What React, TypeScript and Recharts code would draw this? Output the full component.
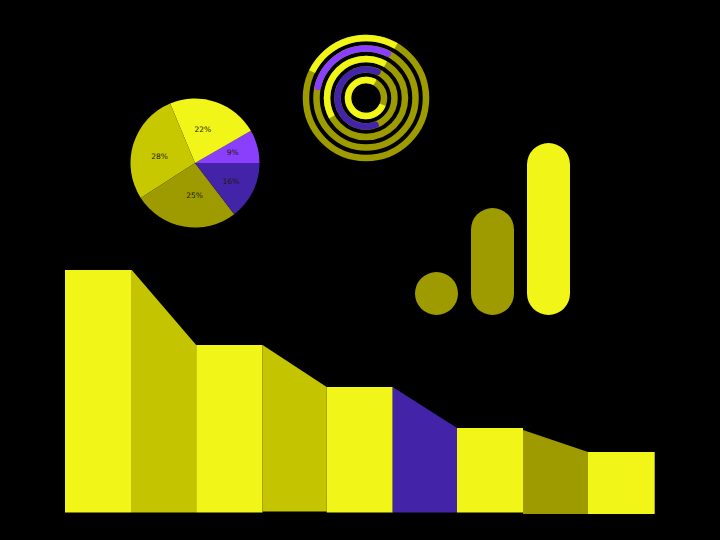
import React from "react";
import { Area, Bar, BarChart, Cell, ComposedChart, Pie, PieChart, PolarAngleAxis, RadialBar, RadialBarChart, Sector, XAxis, YAxis } from "recharts";

const YELLOW = "#f1f518";
const OLIVE = "#c4c400";
const DARK_OLIVE = "#9e9b00";
const INDIGO = "#4324a8";
const VIOLET = "#8a3ffc";

// Stepped funnel
const edges = [0, 66.8, 131.2, 197.6, 261.7, 327.7, 392, 458, 523, 589.7];
const segmentTops: [number, number][] = [
  [243, 243], [243, 168], [168, 168], [168, 126], [126, 126], [126, 85], [85, 85], [83, 61], [61, 61],
];
const segmentBases = [0.5, 0.5, 0.5, 1.5, 0.5, 0.5, 0.5, -1, -1];
const segmentColors = [YELLOW, OLIVE, YELLOW, OLIVE, YELLOW, INDIGO, YELLOW, DARK_OLIVE, YELLOW];
const funnelRows = edges.map((x, i) => {
  const row: Record<string, unknown> = { x };
  if (i < segmentTops.length) row[`s${i}`] = [segmentBases[i], segmentTops[i][0]];
  if (i > 0) row[`s${i - 1}`] = [segmentBases[i - 1], segmentTops[i - 1][1]];
  return row;
});

// Pie
const pieLabels = ["9%", "22%", "28%", "25%", "16%"];
const pieValues = [8.3, 23, 27.8, 26.3, 14.6];
const pieColors = [VIOLET, YELLOW, "#c8c800", DARK_OLIVE, INDIGO];
const pieRows = pieLabels.map((name, i) => ({ name, value: pieValues[i] }));

// Rings, innermost first
const ringNames = ["a", "b", "c", "d", "e"];
const ringValues = [278, 236, 149, 111, 94];
const ringColors = [YELLOW, INDIGO, YELLOW, VIOLET, YELLOW];
const ringCorners = [1, 3, 1, 3, 0];
const ringRows = ringNames.map((name, i) => ({ name, value: ringValues[i] }));

// Pills
const pillNames = ["low", "mid", "high"];
const pillValues = [43, 107, 172];
const pillColors = [DARK_OLIVE, DARK_OLIVE, YELLOW];
const pillRows = pillNames.map((name, i) => ({ name, value: pillValues[i] }));

const RAD = Math.PI / 180;
function PieLabel(props: any) {
  const { cx, cy, midAngle, index } = props;
  const r = 37;
  const nudgeX = [2, -4, 0, 6, 3][index];
  const nudgeY = [-1, 2, 4, -4, 2][index];
  return (
    <text
      x={cx + r * Math.cos(midAngle * RAD) + nudgeX}
      y={cy - r * Math.sin(midAngle * RAD) + nudgeY}
      textAnchor="middle"
      dominantBaseline="central"
      fontFamily="DejaVu Sans"
      fontSize={7.5}
      fill="#1a1a00"
    >
      {pieLabels[index]}
    </text>
  );
}

function RingShape(props: any) {
  const i = ringNames.indexOf(props.name ?? props.payload?.name);
  const { cx, cy, innerRadius, outerRadius } = props;
  return (
    <g>
      <circle cx={cx} cy={cy} r={(innerRadius + outerRadius) / 2} fill="none" stroke={DARK_OLIVE} strokeWidth={outerRadius - innerRadius} />
      <Sector {...props} fill={ringColors[i]} cornerRadius={ringCorners[i]} />
    </g>
  );
}

const box = (left: number, top: number): React.CSSProperties => ({ position: "absolute", left, top });

export default function App() {
  return (
    <div style={{ position: "fixed", left: 0, top: 0, width: 720, height: 540, background: "#000", overflow: "hidden" }}>
      <div style={box(65, 260)}>
        <ComposedChart width={590} height={260} data={funnelRows} margin={{ top: 0, right: 0, bottom: 0, left: 0 }}>
          <XAxis dataKey="x" type="number" domain={[0, 590]} hide />
          <YAxis type="number" domain={[-7, 253]} hide />
          {segmentColors.map((c, i) => (
            <Area key={i} dataKey={`s${i}`} type="linear" fill={c} fillOpacity={1} stroke="none" dot={false} activeDot={false} isAnimationActive={false} />
          ))}
        </ComposedChart>
      </div>
      <div style={box(125, 93)}>
        <PieChart width={140} height={140} margin={{ top: 0, right: 0, bottom: 0, left: 0 }}>
          <Pie data={pieRows} dataKey="value" cx={70} cy={70} innerRadius={0} outerRadius={64.5} startAngle={0} endAngle={360} stroke="none" label={PieLabel} labelLine={false} isAnimationActive={false}>
            {pieColors.map((c, i) => <Cell key={i} fill={c} />)}
          </Pie>
        </PieChart>
      </div>
      <div style={box(296, 28)}>
        <RadialBarChart width={140} height={140} cx={70} cy={70} data={ringRows} innerRadius={12.75} outerRadius={65.25} startAngle={60} endAngle={420} barSize={6.5} margin={{ top: 0, right: 0, bottom: 0, left: 0 }}>
          <PolarAngleAxis type="number" domain={[0, 360]} tick={false} axisLine={false} />
          <RadialBar dataKey="value" shape={RingShape} isAnimationActive={false} />
        </RadialBarChart>
      </div>
      <div style={box(407.5, 143)}>
        <BarChart width={168} height={172} data={pillRows} margin={{ top: 0, right: 0, bottom: 0, left: 0 }} barCategoryGap={6.5}>
          <XAxis dataKey="name" hide />
          <YAxis type="number" domain={[0, 172]} hide />
          <Bar dataKey="value" barSize={43} radius={21.5} isAnimationActive={false}>
            {pillColors.map((c, i) => <Cell key={i} fill={c} />)}
          </Bar>
        </BarChart>
      </div>
    </div>
  );
}
